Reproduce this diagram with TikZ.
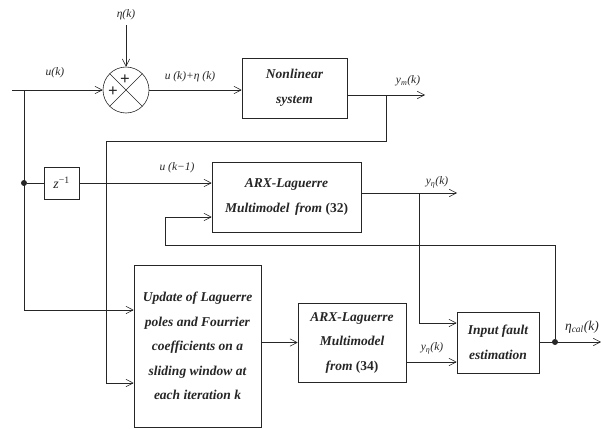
\documentclass[tikz,border=0pt]{standalone}
\usepackage{fontspec}
\setmainfont{Liberation Serif}
\usetikzlibrary{arrows.meta, positioning}

\begin{document}
\begin{tikzpicture}[
  x=1pt, y=-1pt,
  block/.style={draw, line width=0.6pt, align=center, inner sep=0pt, font=\bfseries\itshape\fontsize{13.5}{24.5}\selectfont},
  edge/.style={-{Straight Barb[length=2.5mm, width=2.6mm]}, line width=0.6pt},
  wire/.style={line width=0.6pt},
  lbl/.style={font=\itshape\fontsize{11.5}{13}\selectfont, inner sep=1pt},
  dot/.style={circle, fill, inner sep=0pt, minimum size=6pt},
  every path/.style={color=black!85}
]
\useasboundingbox (0,0) rectangle (601,428);

\node[circle, draw, line width=0.6pt, minimum size=46pt] (sum) at (126,90) {};
\draw[wire] (sum.45) -- (sum.225) (sum.135) -- (sum.-45);
\node[font=\bfseries\fontsize{17}{17}\selectfont, inner sep=0pt] (p1) at (125,80) {+};
\node[font=\bfseries\fontsize{17}{17}\selectfont, inner sep=0pt] (p2) at (113,92) {+};
\node[lbl, inner sep=5pt] (eta) at (126,15) {η(k)};
\node[lbl] (uk) at (55,73) {u(k)};
\node[lbl] (usum) at (190,77) {u (k)+η (k)};

\node[block, minimum width=105pt, minimum height=60pt] (nl) at (294.5,88) {Nonlinear\\system};
\node[draw, line width=0.6pt, minimum width=35pt, minimum height=32pt, font=\fontsize{14}{16}\selectfont] (z) at (61.5,183) {\textit{z}\textsuperscript{−1}};
\node[block, minimum width=149pt, minimum height=70pt] (arx1) at (286.5,197) {ARX-Laguerre\\Multimodel\, from {\upshape(32)}};
\node[block, minimum width=127pt, minimum height=162pt] (upd) at (197.5,346) {Update of Laguerre\\poles and Fourrier\\coefficients on a\\sliding window at\\each iteration k};
\node[block, minimum width=108pt, minimum height=79pt] (arx2) at (352,342.5) {ARX-Laguerre\\Multimodel\\from {\upshape(34)}};
\node[block, minimum width=82pt, minimum height=61pt] (fe) at (498,342.5) {Input fault\\estimation};

\node[dot] (d1) at (24,183) {};
\node[dot] (d2) at (555,342) {};
\coordinate (in) at (12,90);
\coordinate (ym) at (425,95);
\coordinate (yeta) at (457,193);
\coordinate (out) at (601,342);

\node[lbl] (ymlbl) at (408,81) {y\textsubscript{m}(k)};
\node[lbl] (uk1) at (177,168) {u (k−1)};
\node[lbl] (ye1) at (437,182) {y\textsubscript{η}(k)};
\node[lbl] (ye2) at (432,348) {y\textsubscript{η}(k)};
\node[lbl, font=\itshape\fontsize{13.5}{16}\selectfont, anchor=east] (etacal) at (600,327) {η\textsubscript{cal}(k)};

\draw[edge] (in) -- (sum.west);
\draw[edge] (eta) -- (sum.north);
\draw[edge] (sum.east) -- (nl.west |- sum.east);
\draw[edge] (nl.east |- ym) -- (ym);
\draw[edge] (386,95) |- (106,141) |- (upd.west |- 0,383);
\draw[edge] (24,90) |- (upd.west |- 0,310);
\draw[wire] (d1) -- (z);
\draw[edge] (z) -- (arx1.west |- z);
\draw[edge] (arx1.east |- yeta) -- (yeta);
\draw[edge] (419,193) |- (fe.west |- 0,323);
\draw[edge] (d2) |- (165,245) |- (arx1.west |- 0,217);
\draw[edge] (upd.east |- arx2) -- (arx2.west);
\draw[edge] (arx2.east |- 0,362) -- (fe.west |- 0,362);
\draw[edge] (fe.east |- d2) -- (out);
\end{tikzpicture}
\end{document}
